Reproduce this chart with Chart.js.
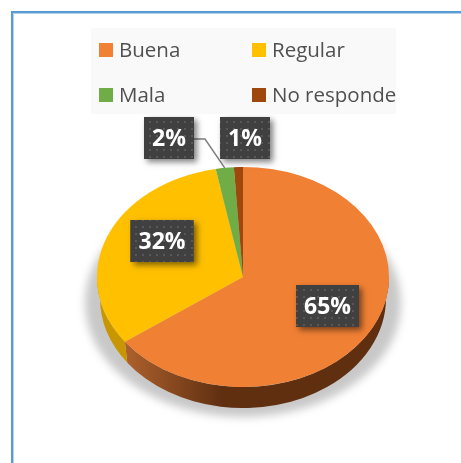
<!DOCTYPE html>
<html>
<head>
<meta charset="utf-8">
<script src="https://cdn.jsdelivr.net/npm/chart.js@4"></script>
<style>
html, body { margin: 0; padding: 0; background: #fff; width: 461px; height: 463px; overflow: hidden; }
#wrap { position: relative; width: 461px; height: 463px; }
#frame { position: absolute; left: 11px; top: 11px; width: 460px; height: 460px; border: 2px solid #5b9bd5; box-shadow: inset 1px 1px 0 #b5d2ec; }
#pie { position: absolute; left: 0; top: 0; }
#legend { position: absolute; left: 91px; top: 28px; width: 305px; height: 86px; background: #f9f9f9; font-family: "Open Sans", sans-serif; font-size: 20.5px; color: #505050; white-space: nowrap; }
.item { position: absolute; line-height: 26px; height: 26px; }
.swatch { position: absolute; left: 0; top: 6px; width: 14px; height: 14px; }
.text { position: absolute; left: 20px; top: -1px; }
</style>
</head>
<body>
<div id="wrap">
  <div id="frame"></div>
  <canvas id="pie" width="461" height="463"></canvas>
  <div id="legend"></div>
</div>
<script>
const categories = ['Buena', 'Regular', 'Mala', 'No responde'];
const values = [65, 32, 2, 1];
const colors = ['#f08033', '#ffc000', '#70ad47', '#9e480e'];

// label box centres, in page pixels
const labelX = [327.5, 162, 169, 245];
const labelY = [306, 241, 138, 138];
const labelW = [63, 63, 50, 50];
const labelH = 42;

// legend item corners, relative to the legend box
const legendX = [8, 161, 8, 161];
const legendY = [9, 9, 54, 54];

const squash = 110 / 146; // the flat pie is a circle pressed down to this ratio
const depth = 21;
const taper = 3; // the bottom rim looks a bit narrower than the top one

function dotPattern(ctx) {
    const c = document.createElement('canvas');
    c.width = 7;
    c.height = 7;
    const p = c.getContext('2d');
    p.fillStyle = '#404040';
    p.fillRect(0, 0, 7, 7);
    p.fillStyle = '#585858';
    p.fillRect(2, 2, 2, 2);
    return ctx.createPattern(c, 'repeat');
}

const tiltPlugin = {
    id: 'tilt',
    beforeDatasetsDraw(chart) {
        const ctx = chart.ctx;
        const arcs = chart.getDatasetMeta(0).data;
        const cx = arcs[0].x, cy = arcs[0].y, rx = arcs[0].outerRadius, ry = rx * squash;

        // soft shadow under the pie
        ctx.save();
        ctx.filter = 'blur(4px)';
        ctx.fillStyle = '#c8c8c8';
        ctx.beginPath();
        ctx.ellipse(cx, cy + 26, rx + 12, ry + 4, 0, 0, Math.PI * 2);
        ctx.fill();
        ctx.restore();

        // side wall, only for the part of each slice that faces the viewer
        arcs.forEach((arc, i) => {
            const a0 = Math.max(arc.startAngle, 0);
            const a1 = Math.min(arc.endAngle, Math.PI);
            if (a1 <= a0) return;
            const grad = ctx.createLinearGradient(cx - rx + 25, 0, cx - 20, 0);
            if (i === 0) {
                grad.addColorStop(0, '#b0622e');
                grad.addColorStop(1, '#5f2f10');
            } else {
                grad.addColorStop(0, '#c79600');
                grad.addColorStop(1, '#c79600');
            }
            ctx.fillStyle = grad;
            ctx.beginPath();
            ctx.ellipse(cx, cy, rx, ry, 0, a0, a1);
            ctx.ellipse(cx, cy + depth, rx - taper, ry, 0, a1, a0, true);
            ctx.closePath();
            ctx.fill();
        });

        ctx.save();
        ctx.translate(cx, cy);
        ctx.scale(1, squash);
        ctx.translate(-cx, -cy);
    },
    afterDatasetsDraw(chart) {
        const ctx = chart.ctx;
        ctx.restore();

        const arcs = chart.getDatasetMeta(0).data;
        const total = values.reduce((a, b) => a + b, 0);

        // leader line of the Mala slice
        const mala = arcs[2];
        const mid = (mala.startAngle + mala.endAngle) / 2;
        ctx.strokeStyle = '#7f7f7f';
        ctx.lineWidth = 1.5;
        ctx.beginPath();
        ctx.moveTo(labelX[2] + labelW[2] / 2, labelY[2] + 1);
        ctx.lineTo(205, labelY[2] + 1);
        ctx.lineTo(mala.x + Math.cos(mid) * mala.outerRadius, mala.y + Math.sin(mid) * mala.outerRadius * squash);
        ctx.stroke();

        const pattern = dotPattern(ctx);
        values.forEach((v, i) => {
            const x = labelX[i] - labelW[i] / 2;
            const y = labelY[i] - labelH / 2;
            ctx.save();
            ctx.shadowColor = 'rgba(0,0,0,0.5)';
            ctx.shadowBlur = 6;
            ctx.shadowOffsetX = 3;
            ctx.shadowOffsetY = 3;
            ctx.fillStyle = '#404040';
            ctx.fillRect(x, y, labelW[i], labelH);
            ctx.restore();
            ctx.fillStyle = pattern;
            ctx.fillRect(x, y, labelW[i], labelH);
            ctx.fillStyle = '#fff';
            ctx.font = 'bold 23px "Open Sans", sans-serif';
            ctx.textAlign = 'center';
            ctx.textBaseline = 'middle';
            ctx.fillText(Math.round(v / total * 100) + '%', labelX[i], labelY[i] + 1);
        });
    }
};

const chart = new Chart(document.getElementById('pie'), {
    type: 'pie',
    data: {
        labels: categories,
        datasets: [{ data: values, backgroundColor: colors, borderWidth: 0 }]
    },
    options: {
        responsive: false,
        animation: false,
        layout: { padding: { left: 97, right: 72, top: 131, bottom: 40 } },
        plugins: { legend: { display: false }, tooltip: { enabled: false } }
    },
    plugins: [tiltPlugin]
});

const $legend = document.getElementById('legend');
categories.forEach((name, i) => {
    const $item = document.createElement('div');
    $item.className = 'item';
    $item.style.left = legendX[i] + 'px';
    $item.style.top = legendY[i] + 'px';
    const $swatch = document.createElement('span');
    $swatch.className = 'swatch';
    $swatch.style.background = colors[i];
    const $text = document.createElement('span');
    $text.className = 'text';
    $text.textContent = name;
    $item.append($swatch, $text);
    $legend.append($item);
});
</script>
</body>
</html>
